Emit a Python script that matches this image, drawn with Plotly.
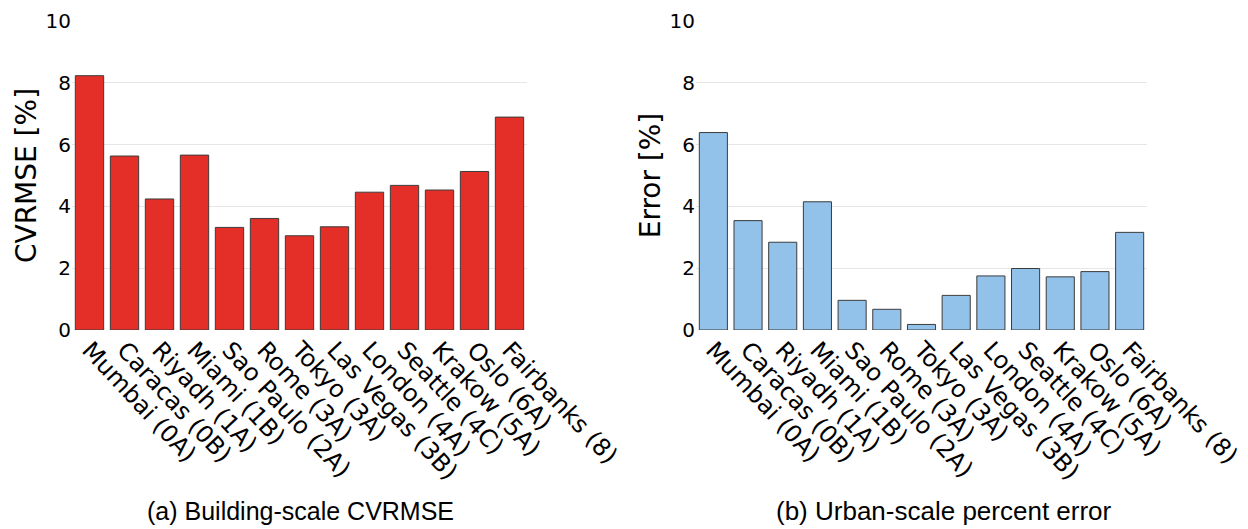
import plotly.graph_objects as go

cities = ["Mumbai (0A)", "Caracas (0B)", "Riyadh (1A)", "Miami (1B)", "Sao Paulo (2A)",
          "Rome (3A)", "Tokyo (3A)", "Las Vegas (3B)", "London (4A)", "Seattle (4C)",
          "Krakow (5A)", "Oslo (6A)", "Fairbanks (8)"]
building_cvrmse = [8.23, 5.63, 4.24, 5.66, 3.32, 3.61, 3.05, 3.34, 4.46, 4.68, 4.53, 5.13, 6.89]
urban_error = [6.39, 3.54, 2.84, 4.15, 0.96, 0.67, 0.18, 1.12, 1.75, 1.99, 1.72, 1.89, 3.16]
y_ticks = [0, 2, 4, 6, 8, 10]
captions = ["(a) Building-scale CVRMSE", "(b) Urban-scale percent error"]
y_titles = ["CVRMSE [%]", "Error [%]"]

W, H = 1240, 521
ML, MR, MT, MB = 64, 101, 13, 199
PW, PH = W - ML - MR, H - MT - MB

fig = go.Figure()
fig.add_trace(go.Bar(x=cities, y=building_cvrmse, xaxis="x", yaxis="y",
                     marker=dict(color="#E32F27", line=dict(color="#3c3c3c", width=1)),
                     showlegend=False))
fig.add_trace(go.Bar(x=cities, y=urban_error, xaxis="x2", yaxis="y2",
                     marker=dict(color="#92C1EA", line=dict(color="#3c3c3c", width=1)),
                     showlegend=False))

ytickfont = dict(family="DejaVu Sans", size=20, color="black")
xtickfont = dict(family="DejaVu Sans", size=24, color="black")
titlefont = dict(family="DejaVu Sans", size=28, color="black")

xcommon = dict(tickangle=47, tickfont=xtickfont, showgrid=False, showline=False,
               zeroline=False, automargin=False, ticks="", ticklabeloverflow="allow")
ycommon = dict(range=[0, 10], tickvals=y_ticks, tickfont=ytickfont, showgrid=True,
               gridcolor="#e6e6e6", gridwidth=1, zeroline=False, showline=False,
               automargin=False, ticks="", ticklabeloverflow="allow")

cap_y = -(503 - (H - MB)) / PH
fig.update_layout(
    width=W, height=H,
    margin=dict(l=ML, r=MR, t=MT, b=MB),
    paper_bgcolor="white", plot_bgcolor="white",
    bargap=0.19,
    xaxis=dict(domain=[0, (519 - ML) / PW], anchor="y", **xcommon),
    yaxis=dict(domain=[0, 1], anchor="x", title=dict(text=y_titles[0], font=titlefont, standoff=0), **ycommon),
    xaxis2=dict(domain=[(688 - ML) / PW, 1.0], anchor="y2", **xcommon),
    yaxis2=dict(domain=[0, 1], anchor="x2", title=dict(text=y_titles[1], font=titlefont, standoff=0), **ycommon),
    annotations=[
        dict(text=captions[0], xref="paper", yref="paper", x=(292 - ML) / PW, y=cap_y,
             showarrow=False, xanchor="center", yanchor="middle",
             font=dict(family="Liberation Sans", size=25, color="black")),
        dict(text=captions[1], xref="paper", yref="paper", x=(936 - ML) / PW, y=cap_y,
             showarrow=False, xanchor="center", yanchor="middle",
             font=dict(family="Liberation Sans", size=26, color="black")),
    ],
)

fig.write_html("out.html")
